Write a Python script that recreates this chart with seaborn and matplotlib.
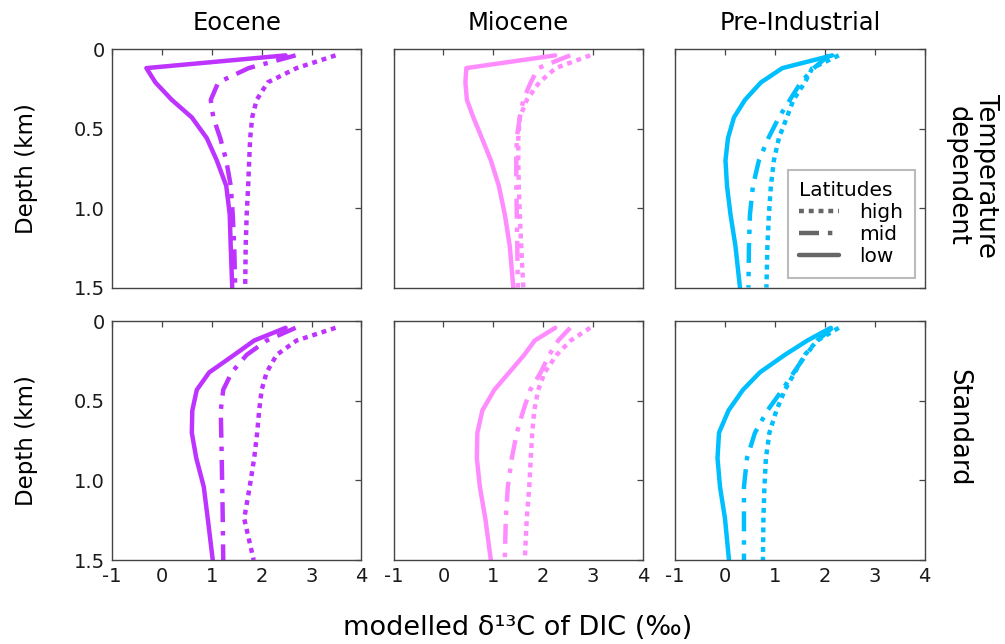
import matplotlib
matplotlib.use("Agg")
import matplotlib.pyplot as plt
from matplotlib.lines import Line2D
import pandas as pd
import seaborn as sns

# Depth of model levels (km)
depth = [0.04, 0.12, 0.21, 0.32, 0.43, 0.56, 0.70, 0.86, 1.04, 1.24, 1.50]

periods = ["Eocene", "Miocene", "Pre-Industrial"]
schemes = ["Temperature\ndependent", "Standard"]
latitudes = ["high", "mid", "low"]
period_colors = ["#BD33FF", "#FF8CFF", "#00BFFF"]

# Temperature-dependent remineralisation: modelled d13C of DIC (permil)
eoc_td_high = [3.48, 2.70, 2.12, 1.90, 1.81, 1.77, 1.75, 1.73, 1.70, 1.68, 1.67]
eoc_td_mid = [2.68, 1.74, 1.13, 0.98, 1.03, 1.17, 1.29, 1.38, 1.42, 1.45, 1.47]
eoc_td_low = [2.48, -0.31, -0.13, 0.20, 0.60, 0.90, 1.10, 1.29, 1.36, 1.38, 1.41]

mio_td_high = [2.94, 2.25, 1.92, 1.67, 1.53, 1.50, 1.50, 1.51, 1.53, 1.56, 1.60]
mio_td_mid = [2.54, 1.90, 1.75, 1.60, 1.53, 1.47, 1.46, 1.46, 1.47, 1.48, 1.49]
mio_td_low = [2.24, 0.46, 0.44, 0.47, 0.60, 0.77, 0.95, 1.11, 1.23, 1.33, 1.40]

pi_td_high = [2.28, 1.75, 1.60, 1.37, 1.24, 1.08, 0.98, 0.92, 0.88, 0.85, 0.83]
pi_td_mid = [2.08, 1.78, 1.52, 1.30, 1.08, 0.87, 0.68, 0.56, 0.50, 0.48, 0.47]
pi_td_low = [2.15, 1.15, 0.72, 0.40, 0.18, 0.06, 0.01, 0.04, 0.11, 0.21, 0.30]

# Standard remineralisation
eoc_st_high = [3.48, 2.70, 2.30, 2.10, 2.00, 1.95, 1.91, 1.85, 1.76, 1.65, 1.84]
eoc_st_mid = [2.68, 2.10, 1.70, 1.40, 1.23, 1.18, 1.19, 1.20, 1.21, 1.22, 1.23]
eoc_st_low = [2.48, 1.85, 1.45, 0.95, 0.70, 0.61, 0.60, 0.69, 0.84, 0.92, 1.02]

mio_st_high = [2.94, 2.55, 2.27, 2.03, 1.90, 1.82, 1.78, 1.75, 1.72, 1.67, 1.63]
mio_st_mid = [2.54, 2.30, 2.12, 1.95, 1.74, 1.60, 1.47, 1.37, 1.29, 1.25, 1.23]
mio_st_low = [2.24, 1.83, 1.62, 1.32, 1.02, 0.78, 0.68, 0.67, 0.73, 0.84, 0.95]

pi_st_high = [2.28, 1.85, 1.60, 1.40, 1.20, 1.03, 0.89, 0.82, 0.79, 0.77, 0.76]
pi_st_mid = [2.15, 1.85, 1.62, 1.38, 1.15, 0.85, 0.60, 0.44, 0.38, 0.38, 0.38]
pi_st_low = [2.12, 1.65, 1.20, 0.70, 0.36, 0.07, -0.12, -0.15, -0.10, 0.00, 0.08]

profiles = {
    (0, 0): [eoc_td_high, eoc_td_mid, eoc_td_low],
    (0, 1): [mio_td_high, mio_td_mid, mio_td_low],
    (0, 2): [pi_td_high, pi_td_mid, pi_td_low],
    (1, 0): [eoc_st_high, eoc_st_mid, eoc_st_low],
    (1, 1): [mio_st_high, mio_st_mid, mio_st_low],
    (1, 2): [pi_st_high, pi_st_mid, pi_st_low],
}

line_dashes = {"high": (1.1, 1.1), "mid": (4.5, 2.0, 1.0, 2.0), "low": ""}

sns.set_theme(style="white")
plt.rcParams["font.family"] = ["DejaVu Sans"]
plt.rcParams["text.color"] = "black"
plt.rcParams["axes.labelcolor"] = "black"

fig, axes = plt.subplots(2, 3, figsize=(10.05, 6.44), dpi=100)
fig.subplots_adjust(left=0.1114, right=0.920, top=0.9239, bottom=0.1304,
                    wspace=0.1285, hspace=0.142)

for (r, c), series in profiles.items():
    ax = axes[r, c]
    frames = []
    for lat, vals in zip(latitudes, series):
        frames.append(pd.DataFrame({"d13c": vals, "depth": depth, "lat": lat}))
    df = pd.concat(frames, ignore_index=True)
    sns.lineplot(data=df, x="d13c", y="depth", style="lat", style_order=latitudes,
                 dashes=line_dashes, color=period_colors[c], lw=3.2,
                 sort=False, estimator=None, legend=False, ax=ax)
    ax.set_xlim(-1, 4)
    ax.set_ylim(1.5, 0)
    ax.set_xticks([-1, 0, 1, 2, 3, 4])
    ax.set_yticks([0, 0.5, 1.0, 1.5])
    ax.set_xlabel("")
    ax.set_ylabel("")
    ax.tick_params(direction="in", length=4, width=0.9, color="#444444",
                   top=True, right=True, labelsize=14, labelcolor="#1a1a1a", pad=5)
    for sp in ax.spines.values():
        sp.set_color("#444444")
        sp.set_linewidth(1.0)
    if r == 1:
        ax.set_xticklabels(["-1", "0", "1", "2", "3", "4"])
    else:
        ax.set_xticklabels([])
    if c == 0:
        ax.set_yticklabels(["0", "0.5", "1.0", "1.5"])
        ax.set_ylabel("Depth (km)", fontsize=16.5, labelpad=26)
    else:
        ax.set_yticklabels([])
    if r == 0:
        ax.set_title(periods[c], fontsize=17.5, pad=14)

# Row labels on the right
row_label_pos = [(1.189, 0.47), (1.133, 0.556)]
for r, label in enumerate(schemes):
    x, y = row_label_pos[r]
    axes[r, 2].text(x, y, label, transform=axes[r, 2].transAxes,
                    rotation=-90, ha="center", va="center", fontsize=18.5,
                    multialignment="center", linespacing=1.1)

# Legend for latitude bands
handles = [
    Line2D([], [], color="#666666", lw=3.2, dashes=line_dashes["high"]),
    Line2D([], [], color="#666666", lw=3.2, dashes=line_dashes["mid"]),
    Line2D([], [], color="#666666", lw=3.2, linestyle="-"),
]
leg = axes[0, 2].legend(handles, latitudes, title="Latitudes", loc="lower right",
                        fontsize=14.5, title_fontsize=14.5, handlelength=2.0,
                        handletextpad=1.0, labelspacing=0.15, borderpad=0.55,
                        borderaxespad=0.5, fancybox=False, framealpha=1,
                        alignment="left")
leg.get_frame().set_edgecolor("#BBBBBB")
leg.get_frame().set_linewidth(1.5)

fig.text(0.515, 0.025, "modelled δ¹³C of DIC (‰)", ha="center", va="center",
         fontsize=19.5)

fig.savefig("out.png", dpi=100)
